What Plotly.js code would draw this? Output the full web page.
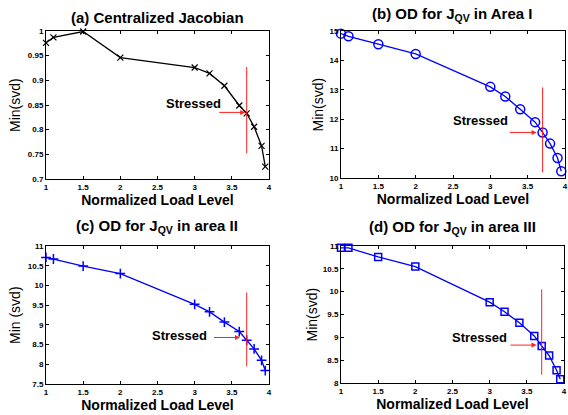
<!DOCTYPE html>
<html>
<head>
<meta charset="utf-8">
<script src="https://cdn.plot.ly/plotly-3.0.1.min.js"></script>
<style>html,body{margin:0;padding:0;background:#fff;}#chart{width:568px;height:415px;}</style>
</head>
<body>
<div id="chart"></div>
<script>
// ---- data ----
var loadLevel = [1, 1.1, 1.5, 2, 3, 3.2, 3.4, 3.6, 3.7, 3.8, 3.9, 3.95];
var svdCentral = [0.976, 0.987, 0.999, 0.946, 0.926, 0.914, 0.889, 0.849, 0.833, 0.806, 0.767, 0.725];
var svdArea1 = [14.91, 14.82, 14.55, 14.22, 13.10, 12.77, 12.34, 11.90, 11.55, 11.17, 10.68, 10.23];
var svdArea2 = [10.71, 10.67, 10.49, 10.30, 9.52, 9.33, 9.07, 8.83, 8.61, 8.39, 8.10, 7.84];
var svdArea3 = [10.96, 10.96, 10.76, 10.55, 9.77, 9.56, 9.32, 9.03, 8.81, 8.60, 8.28, 8.08];
var stressedLevel = 3.7;
var stressLineLow = [0.752, 10.19, 7.95, 8.18];
var stressLineHigh = [0.927, 13.08, 9.82, 10.05];
var arrowStart = [3.31, 3.24, 3.24, 3.26];
var arrowEnd = [3.68, 3.62, 3.61, 3.63];
var arrowY = [0.835, 11.55, 8.68, 8.83];
var labelX = [2.99, 2.87, 2.80, 2.86];
var labelY = [0.853, 11.94, 8.74, 9.00];
var titles = ['(a) Centralized Jacobian', '(b) OD for J<sub>QV</sub> in Area I', '(c) OD for J<sub>QV</sub> in area II', '(d) OD for J<sub>QV</sub> in area III'];
var yTitles = ['Min(svd)', 'Min(svd)', 'Min (svd)', 'Min(svd)'];
var xTickVals = [1, 1.5, 2, 2.5, 3, 3.5, 4];
var yTickVals = [
  [0.7, 0.75, 0.8, 0.85, 0.9, 0.95, 1],
  [10, 11, 12, 13, 14, 15],
  [7.5, 8, 8.5, 9, 9.5, 10, 10.5, 11],
  [8, 8.5, 9, 9.5, 10, 10.5, 11]
];
var yRanges = [[0.7, 1], [10, 15], [7.5, 11], [8, 11]];

// ---- layout/styles ----
var W = 568, H = 415;
var boxes = [ // px: left, right, top, bottom
  [46, 269, 31, 179],
  [341, 565, 31, 178],
  [46, 269, 246, 384],
  [341, 564, 246, 383]
];
var series = [svdCentral, svdArea1, svdArea2, svdArea3];
var colors = ['#000000', '#0000ff', '#0000ff', '#0000ff'];
var markers = [
  {symbol: 'x-thin', size: 6, line: {width: 1.2, color: '#000'}},
  {symbol: 'circle-open', size: 9, line: {width: 1.5, color: '#0000ff'}},
  {symbol: 'cross-thin', size: 7, line: {width: 1.5, color: '#0000ff'}},
  {symbol: 'square-open', size: 7, line: {width: 1.5, color: '#0000ff'}}
];
var titlePos = [[157, 17], [452, 14], [157, 226], [452, 227]];
var yTitleX = [15, 317, 15, 311];

var traces = [];
var layout = {
  width: W, height: H,
  margin: {l: 0, r: 0, t: 0, b: 0},
  paper_bgcolor: '#fff', plot_bgcolor: '#fff',
  showlegend: false,
  font: {family: 'Liberation Sans, Arial, sans-serif', color: '#000'},
  annotations: []
};
var tickFont = {family: 'Liberation Sans, Arial, sans-serif', size: 8, weight: 'bold', color: '#000'};

for (var i = 0; i < 4; i++) {
  var xa = i === 0 ? 'x' : 'x' + (i + 1), ya = i === 0 ? 'y' : 'y' + (i + 1);
  var xk = i === 0 ? 'xaxis' : 'xaxis' + (i + 1);
  var yk = i === 0 ? 'yaxis' : 'yaxis' + (i + 1);
  var b = boxes[i];
  layout[xk] = {
    domain: [b[0] / W, b[1] / W], anchor: ya,
    range: [1, 4], tickvals: xTickVals, ticktext: xTickVals.map(String),
    ticks: 'inside', ticklen: 3, tickcolor: '#000', mirror: 'ticks',
    showline: true, linecolor: '#000', linewidth: 1, showgrid: false, zeroline: false,
    tickfont: tickFont,
    title: {text: 'Normalized Load Level', font: {size: 14, weight: 'bold'}, standoff: 4}
  };
  layout[yk] = {
    domain: [1 - b[3] / H, 1 - b[2] / H], anchor: xa,
    range: yRanges[i], tickvals: yTickVals[i], ticktext: yTickVals[i].map(String),
    ticks: 'inside', ticklen: 3, tickcolor: '#000', mirror: 'ticks',
    showline: true, linecolor: '#000', linewidth: 1, showgrid: false, zeroline: false,
    tickfont: tickFont
  };
  traces.push({
    x: loadLevel, y: series[i], xaxis: xa, yaxis: ya, type: 'scatter', mode: 'lines+markers',
    line: {color: colors[i], width: 1.3}, marker: markers[i], cliponaxis: false
  });
  traces.push({
    x: [stressedLevel, stressedLevel], y: [stressLineLow[i], stressLineHigh[i]],
    xaxis: xa, yaxis: ya, type: 'scatter', mode: 'lines', line: {color: '#ff2020', width: 1}
  });
  layout.annotations.push({
    xref: xa, yref: ya, axref: xa, ayref: ya,
    x: arrowEnd[i], y: arrowY[i], ax: arrowStart[i], ay: arrowY[i],
    text: '', showarrow: true, arrowhead: 2, arrowsize: 1, arrowwidth: 1, arrowcolor: '#ff2020'
  });
  layout.annotations.push({
    xref: xa, yref: ya, x: labelX[i], y: labelY[i], text: 'Stressed', showarrow: false,
    font: {size: 13, weight: 'bold', color: '#000'}
  });
  layout.annotations.push({
    xref: 'paper', yref: 'paper', x: titlePos[i][0] / W, y: 1 - titlePos[i][1] / H,
    xanchor: 'center', yanchor: 'middle', text: titles[i], showarrow: false,
    font: {size: 15, weight: 'bold', color: '#000'}
  });
  layout.annotations.push({
    xref: 'paper', yref: 'paper', x: yTitleX[i] / W, y: 1 - ((b[2] + b[3]) / 2) / H,
    xanchor: 'center', yanchor: 'middle', textangle: -90, text: yTitles[i], showarrow: false,
    font: {size: 14, color: '#000'}
  });
}

Plotly.newPlot('chart', traces, layout, {displayModeBar: false, staticPlot: true});
</script>
</body>
</html>
